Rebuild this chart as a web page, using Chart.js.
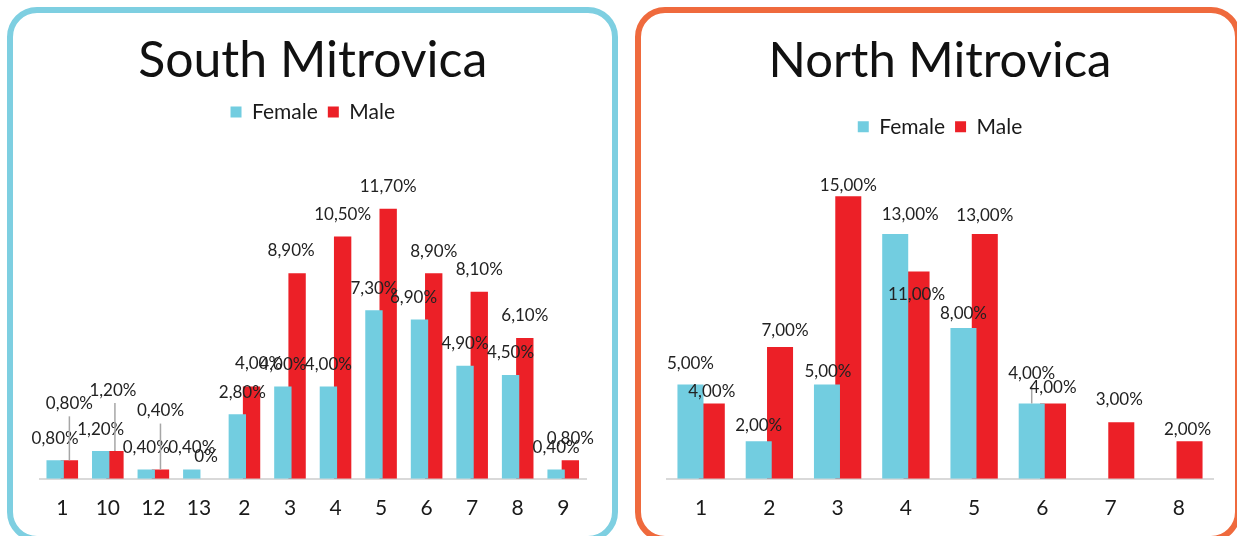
<!DOCTYPE html>
<html><head><meta charset="utf-8">
<script src="https://cdn.jsdelivr.net/npm/chart.js@4.4.1/dist/chart.umd.min.js"></script>
<style>
html,body{margin:0;padding:0;background:#fff;width:1237px;height:536px;overflow:hidden;position:relative}
.box{position:absolute;box-sizing:border-box;border-style:solid;border-width:6px;border-radius:30px}
#boxS{left:7px;top:7px;width:611px;height:535px;border-color:#7ecfe1}
#boxN{left:635px;top:7px;width:606px;height:535px;border-color:#ef6a3d}
canvas{position:absolute}
#cS{left:14px;top:14px;width:598px;height:524px}
#cN{left:642px;top:14px;width:592px;height:524px}
</style></head><body>
<div class="box" id="boxS"></div><div class="box" id="boxN"></div>
<canvas id="cS" width="598" height="524"></canvas>
<canvas id="cN" width="592" height="524"></canvas>
<script>
// ---- data ----
const seriesNames = ['Female', 'Male'];
const southTitle = 'South Mitrovica';
const southCategories = ['1','10','12','13','2','3','4','5','6','7','8','9'];
const southFemale = [0.8, 1.2, 0.4, 0.4, 2.8, 4.0, 4.0, 7.3, 6.9, 4.9, 4.5, 0.4];
const southMale   = [0.8, 1.2, 0.4, 0,   4.0, 8.9, 10.5, 11.7, 8.9, 8.1, 6.1, 0.8];
const northTitle = 'North Mitrovica';
const northCategories = ['1','2','3','4','5','6','7','8'];
const northFemale = [5, 2, 5, 13, 8, 4, null, null];
const northMale   = [4, 7, 15, 11, 13, 4, 3, 2];

// ---- styles ----
const FEMALE = '#72cde0', MALE = '#ec2027', FONT = 'Lato';

function fmt(v) { return v === 0 ? '0%' : v.toFixed(2).replace('.', ',') + '%'; }

const valueLabels = {
  id: 'valueLabels',
  afterDatasetsDraw(chart, args, opts) {
    const ctx = chart.ctx;
    ctx.save();
    ctx.font = opts.font;
    ctx.fillStyle = opts.color;
    ctx.textAlign = 'center';
    ctx.textBaseline = 'middle';
    chart.data.datasets.forEach((ds, i) => {
      const meta = chart.getDatasetMeta(i);
      meta.data.forEach((bar, j) => {
        const v = ds.data[j];
        if (v === null || v === undefined) return;
        const o = (opts.offsets[i] && opts.offsets[i][j]) || [0, opts.dy, 0];
        const x = bar.x + o[0], y = bar.y + o[1];
        if (o[2]) {
          ctx.strokeStyle = opts.leaderColor;
          ctx.lineWidth = 1.5;
          ctx.beginPath();
          ctx.moveTo(bar.x, y + opts.leaderGap);
          ctx.lineTo(bar.x, bar.y);
          ctx.stroke();
        }
        ctx.fillText(fmt(v), x, y);
      });
    });
    ctx.restore();
  }
};

function makeChart(id, title, cats, female, male, cfg) {
  return new Chart(document.getElementById(id), {
    type: 'bar',
    data: {
      labels: cats,
      datasets: [
        { label: seriesNames[0], data: female, backgroundColor: FEMALE, categoryPercentage: 0.625, barPercentage: 1.22 },
        { label: seriesNames[1], data: male, backgroundColor: MALE, categoryPercentage: 0.625, barPercentage: 1.22 }
      ]
    },
    options: {
      responsive: false,
      animation: false,
      devicePixelRatio: 1,
      layout: { padding: cfg.padding },
      scales: {
        x: {
          grid: { display: false, drawTicks: false },
          border: { display: true, color: '#d9d9d9', width: 2 },
          ticks: { color: '#1a1a1a', font: { family: FONT, size: 21 }, padding: 17 }
        },
        y: { display: false, min: 0, max: cfg.ymax }
      },
      plugins: {
        title: {
          display: true, text: title, color: '#111',
          font: { family: FONT, size: cfg.titleSize, weight: 'normal' },
          padding: { top: cfg.titleTop, bottom: cfg.titleBottom }
        },
        legend: {
          display: true, position: 'top',
          labels: { color: '#1a1a1a', font: { family: FONT, size: 21 }, boxWidth: 11, boxHeight: 11, padding: 10 }
        },
        tooltip: { enabled: false },
        valueLabels: {
          font: '17px ' + FONT, color: '#222', leaderColor: '#a6a6a6', leaderGap: 13,
          dy: cfg.dy, offsets: cfg.offsets
        }
      }
    },
    plugins: [valueLabels]
  });
}

makeChart('cS', southTitle, southCategories, southFemale, southMale, {
  padding: { left: 25.5, right: 26, top: 0, bottom: 0 },
  ymax: 15, titleSize: 50, titleTop: 17, titleBottom: 0.5, dy: -22,
  offsets: [
    [null, null, null, null, [5, -22], null, null, null, [-6, -22], null, null, null],
    [[0, -57, 1], [-2, -61, 1], [0, -59, 1], null, [7, -23], [-6, -23], null, null, null, null, null, null]
  ]
});

makeChart('cN', northTitle, northCategories, northFemale, northMale, {
  padding: { left: 25, right: 21, top: 0, bottom: 0 },
  ymax: 17.6, titleSize: 49, titleTop: 17.5, titleBottom: 16, dy: -18,
  offsets: [
    [[0, -21], [0, -16], [1, -13], [15, -19], [0, -15], [0, -30, 1], null, null],
    [[0, -12], [5, -16], [0, -11], [0, 23], [0, -18], [0, -16], [-2, -23], [-2, -12]]
  ]
});
</script>
</body></html>
